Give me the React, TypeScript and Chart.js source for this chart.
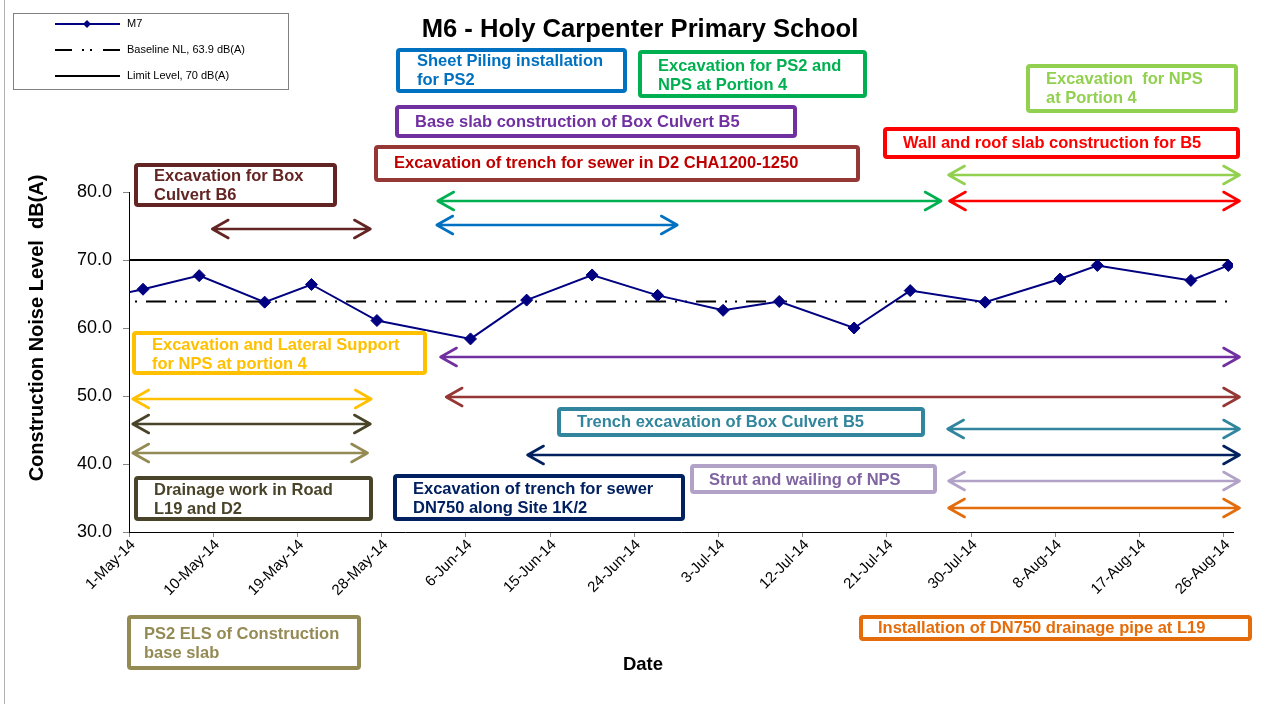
import React, { useEffect, useRef } from 'react';
import { Chart, registerables } from 'chart.js';

Chart.register(...registerables);

// ---------- DATA ----------
const AXIS_ORIGIN = '2014-05-01';
const AXIS_SLOTS = 118; // 1-May-14 .. 26-Aug-14 (one slot per day)

const tickDates = [
  '2014-05-01', '2014-05-10', '2014-05-19', '2014-05-28', '2014-06-06', '2014-06-15', '2014-06-24',
  '2014-07-03', '2014-07-12', '2014-07-21', '2014-07-30', '2014-08-08', '2014-08-17', '2014-08-26',
];
const tickLabels = [
  '1-May-14', '10-May-14', '19-May-14', '28-May-14', '6-Jun-14', '15-Jun-14', '24-Jun-14',
  '3-Jul-14', '12-Jul-14', '21-Jul-14', '30-Jul-14', '8-Aug-14', '17-Aug-14', '26-Aug-14',
];

const m7Dates = [
  '2014-04-25', '2014-05-02', '2014-05-08', '2014-05-15', '2014-05-20', '2014-05-27', '2014-06-06',
  '2014-06-12', '2014-06-19', '2014-06-26', '2014-07-03', '2014-07-09', '2014-07-17', '2014-07-23',
  '2014-07-31', '2014-08-08', '2014-08-12', '2014-08-22', '2014-08-26',
];
const m7Values = [
  63.7, 65.7, 67.7, 63.8, 66.4, 61.1, 58.4,
  64.1, 67.8, 64.8, 62.6, 63.9, 60.0, 65.5,
  63.8, 67.2, 69.2, 67.0, 69.2,
];

const baselineValue = 63.9;
const limitValue = 70;
const yTicks = [30, 40, 50, 60, 70, 80];

// Activities: arrow start / end on the date axis (days since 1-May-14), arrow row level in dB(A)
const activityLabels = [
  'Excavation for Box\nCulvert B6',
  'Sheet Piling installation\nfor PS2',
  'Excavation for PS2 and\nNPS at Portion 4',
  'Excavation  for NPS\nat Portion 4',
  'Wall and roof slab construction for B5',
  'Excavation and Lateral Support\nfor NPS at portion 4',
  'Drainage work in Road\nL19 and D2',
  'PS2 ELS of Construction\nbase slab',
  'Base slab construction of Box Culvert B5',
  'Excavation of trench for sewer in D2 CHA1200-1250',
  'Trench excavation of Box Culvert B5',
  'Excavation of trench for sewer\nDN750 along Site 1K/2',
  'Strut and wailing of NPS',
  'Installation of DN750 drainage pipe at L19',
];
const activityStart = [8.9, 32.9, 33.0, 87.6, 87.7, 0.4, 0.4, 0.4, 33.3, 33.9, 87.5, 42.6, 87.6, 87.6];
const activityEnd = [25.8, 58.6, 86.8, 118.7, 118.7, 25.9, 25.8, 25.5, 118.7, 118.7, 118.7, 118.7, 118.7, 118.7];
const activityLevel = [74.6, 75.1, 78.7, 82.5, 78.7, 49.6, 45.9, 41.6, 55.7, 49.9, 45.1, 41.3, 37.5, 33.5];

// ---------- STYLE / LAYOUT ----------
const activityColor = [
  '#632523', '#0070C0', '#00B050', '#92D050', '#FF0000', '#FFC000', '#494429',
  '#948A54', '#7030A0', '#953735', '#31859C', '#002060', '#B3A2C7', '#E46C0A',
];
const activityTextColor = [
  '#632523', '#0070C0', '#00B050', '#92D050', '#FF0000', '#FFC000', '#494429',
  '#948A54', '#7030A0', '#C00000', '#31859C', '#002060', '#8064A2', '#E46C0A',
];
const calloutBoxes = [
  { x: 134, y: 163, w: 203, h: 44, ty: 176, tx: 20 },
  { x: 396, y: 48, w: 231, h: 45, ty: 61, tx: 21 },
  { x: 638, y: 50, w: 229, h: 48, ty: 66, tx: 20 },
  { x: 1026, y: 64, w: 212, h: 49, ty: 79, tx: 20 },
  { x: 883, y: 127, w: 357, h: 32, ty: 143, tx: 20 },
  { x: 132, y: 331, w: 295, h: 44, ty: 345, tx: 20 },
  { x: 134, y: 476, w: 239, h: 45, ty: 490, tx: 20 },
  { x: 127, y: 615, w: 234, h: 55, ty: 634, tx: 17 },
  { x: 395, y: 105, w: 402, h: 33, ty: 122, tx: 20 },
  { x: 374, y: 145, w: 486, h: 37, ty: 163, tx: 20 },
  { x: 557, y: 407, w: 368, h: 30, ty: 422, tx: 20 },
  { x: 393, y: 474, w: 292, h: 47, ty: 489, tx: 20 },
  { x: 690, y: 464, w: 247, h: 30, ty: 480, tx: 19 },
  { x: 859, y: 615, w: 393, h: 26, ty: 628, tx: 19 },
];

const FONT = "'Liberation Sans', Arial, Helvetica, sans-serif";

const dayOf = (d: string) => {
  const [y, m, dd] = d.split('-').map(Number);
  const [y0, m0, d0] = AXIS_ORIGIN.split('-').map(Number);
  return (Date.UTC(y, m - 1, dd) - Date.UTC(y0, m0 - 1, d0)) / 86400000;
};

const overlayPlugin = {
  id: 'overlay',
  beforeDraw(chart: any) {
    const ctx = chart.ctx;
    ctx.save();
    ctx.fillStyle = '#ffffff';
    ctx.fillRect(0, 0, chart.width, chart.height);
    ctx.strokeStyle = '#b0b0b0';
    ctx.lineWidth = 1;
    ctx.strokeRect(4.5, -0.5, chart.width + 10, chart.height + 10);
    ctx.restore();
  },
  afterDraw(chart: any) {
    const ctx = chart.ctx;
    const xs = chart.scales.x;
    const ys = chart.scales.y;
    ctx.save();

    // Title
    ctx.fillStyle = '#000';
    ctx.textAlign = 'center';
    ctx.textBaseline = 'middle';
    ctx.font = `bold 25.6px ${FONT}`;
    ctx.fillText('M6 - Holy Carpenter Primary School', 640, 30);

    // X title
    ctx.font = `bold 18.5px ${FONT}`;
    ctx.fillText('Date', 643, 665);

    // Y title
    ctx.save();
    ctx.translate(37.5, 328);
    ctx.rotate(-Math.PI / 2);
    ctx.font = `bold 20px ${FONT}`;
    ctx.fillText('Construction Noise Level  dB(A)', 0, 0);
    ctx.restore();

    // Legend
    ctx.strokeStyle = '#808080';
    ctx.lineWidth = 1;
    ctx.strokeRect(13.5, 13.5, 275, 76);
    ctx.lineWidth = 2;
    ctx.strokeStyle = '#000080';
    ctx.beginPath();
    ctx.moveTo(55, 24);
    ctx.lineTo(120, 24);
    ctx.stroke();
    ctx.fillStyle = '#000080';
    ctx.beginPath();
    ctx.moveTo(87, 20);
    ctx.lineTo(91, 24);
    ctx.lineTo(87, 28);
    ctx.lineTo(83, 24);
    ctx.closePath();
    ctx.fill();
    ctx.strokeStyle = '#000';
    ctx.beginPath();
    ctx.moveTo(55, 50); ctx.lineTo(72, 50);
    ctx.moveTo(82, 50); ctx.lineTo(84, 50);
    ctx.moveTo(90, 50); ctx.lineTo(92, 50);
    ctx.moveTo(103, 50); ctx.lineTo(120, 50);
    ctx.stroke();
    ctx.beginPath();
    ctx.moveTo(55, 76); ctx.lineTo(120, 76);
    ctx.stroke();
    ctx.fillStyle = '#000';
    ctx.textAlign = 'left';
    ctx.font = `11px ${FONT}`;
    ctx.fillText('M7', 127, 24);
    ctx.fillText('Baseline NL, 63.9 dB(A)', 127, 50);
    ctx.fillText('Limit Level, 70 dB(A)', 127, 76);

    // Arrows (activity durations)
    ctx.lineWidth = 2.6;
    ctx.lineCap = 'round';
    ctx.lineJoin = 'round';
    activityLabels.forEach((_, i) => {
      const x1 = xs.getPixelForValue(activityStart[i]);
      const x2 = xs.getPixelForValue(activityEnd[i]);
      const y = Math.round(ys.getPixelForValue(activityLevel[i]));
      ctx.strokeStyle = activityColor[i];
      ctx.beginPath();
      ctx.moveTo(x1, y);
      ctx.lineTo(x2, y);
      ctx.moveTo(x1 + 16, y - 9);
      ctx.lineTo(x1, y);
      ctx.lineTo(x1 + 16, y + 9);
      ctx.moveTo(x2 - 16, y - 9);
      ctx.lineTo(x2, y);
      ctx.lineTo(x2 - 16, y + 9);
      ctx.stroke();
    });

    // Callout boxes
    ctx.lineCap = 'butt';
    activityLabels.forEach((label, i) => {
      const b = calloutBoxes[i];
      ctx.fillStyle = '#fff';
      ctx.fillRect(b.x, b.y, b.w, b.h);
      ctx.strokeStyle = activityColor[i];
      ctx.lineWidth = 4;
      ctx.beginPath();
      if ((ctx as any).roundRect) (ctx as any).roundRect(b.x + 2, b.y + 2, b.w - 4, b.h - 4, 2);
      else ctx.rect(b.x + 2, b.y + 2, b.w - 4, b.h - 4);
      ctx.stroke();
      ctx.fillStyle = activityTextColor[i];
      ctx.font = `bold 16.5px ${FONT}`;
      ctx.textAlign = 'left';
      ctx.textBaseline = 'middle';
      label.split('\n').forEach((line, k) => {
        ctx.fillText(line, b.x + b.tx, b.ty + k * 19.5);
      });
    });

    ctx.restore();
  },
};

export default function App() {
  const ref = useRef<HTMLCanvasElement>(null);

  useEffect(() => {
    if (!ref.current) return;
    const tickDays = tickDates.map(dayOf);
    const chart = new Chart(ref.current, {
      type: 'line',
      data: {
        datasets: [
          {
            label: 'M7',
            data: m7Dates.map((d, i) => ({ x: dayOf(d) + 0.5, y: m7Values[i] })),
            borderColor: '#000080',
            backgroundColor: '#000080',
            borderWidth: 2,
            pointStyle: 'rectRot',
            pointRadius: 6,
            pointBorderWidth: 1,
            pointBackgroundColor: '#000080',
            pointBorderColor: '#000080',
            tension: 0,
          },
          {
            label: 'Baseline NL, 63.9 dB(A)',
            data: [
              { x: dayOf(m7Dates[0]) + 0.5, y: baselineValue },
              { x: dayOf(m7Dates[m7Dates.length - 1]) + 0.5, y: baselineValue },
            ],
            borderColor: '#000',
            borderWidth: 2,
            borderDash: [20, 9, 2, 8, 2, 9],
            borderDashOffset: 31.5,
            pointRadius: 0,
          },
          {
            label: 'Limit Level, 70 dB(A)',
            data: [
              { x: dayOf(m7Dates[0]) + 0.5, y: limitValue },
              { x: dayOf(m7Dates[m7Dates.length - 1]) + 0.5, y: limitValue },
            ],
            borderColor: '#000',
            borderWidth: 2,
            pointRadius: 0,
          },
        ],
      },
      options: {
        responsive: false,
        animation: false,
        events: [],
        layout: { padding: { top: 192, right: 41, left: 0, bottom: 0 } },
        plugins: { legend: { display: false }, tooltip: { enabled: false }, title: { display: false } },
        scales: {
          x: {
            type: 'linear',
            min: 0,
            max: AXIS_SLOTS,
            afterBuildTicks: (scale: any) => {
              scale.ticks = tickDays.map((v) => ({ value: v }));
            },
            afterFit: (scale: any) => {
              scale.height = 172;
            },
            ticks: {
              autoSkip: false,
              minRotation: 45,
              maxRotation: 45,
              padding: -1,
              labelOffset: 4,
              color: '#000',
              font: { family: FONT, size: 15 },
              callback: (_v: any, i: number) => tickLabels[i],
            },
            grid: { drawOnChartArea: false, drawTicks: true, tickLength: 5, color: '#868686' },
            border: { display: true, color: '#000', width: 1 },
          },
          y: {
            min: 30,
            max: 80,
            afterBuildTicks: (scale: any) => {
              scale.ticks = yTicks.map((v) => ({ value: v }));
            },
            afterFit: (scale: any) => {
              scale.width = 129;
            },
            ticks: {
              padding: 11,
              color: '#000',
              font: { family: FONT, size: 18 },
              callback: (v: any) => Number(v).toFixed(1),
            },
            grid: { drawOnChartArea: false, drawTicks: true, tickLength: 6, color: '#868686' },
            border: { display: true, color: '#000', width: 1 },
          },
        },
      },
      plugins: [overlayPlugin],
    } as any);
    return () => chart.destroy();
  }, []);

  return (
    <div style={{ position: 'fixed', left: 0, top: 0, width: 1274, height: 704, background: '#fff' }}>
      <canvas ref={ref} width={1274} height={704} style={{ display: 'block', width: 1274, height: 704 }} />
    </div>
  );
}
